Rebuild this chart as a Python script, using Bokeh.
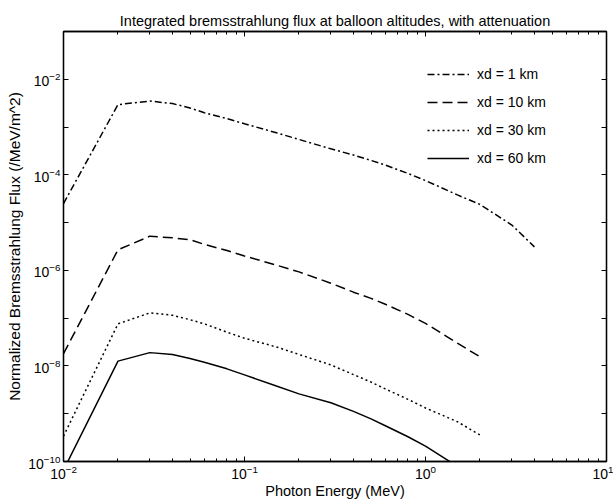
from bokeh.plotting import figure
from bokeh.models import (Legend, LegendItem, FixedTicker, LogAxis, Range1d, CustomJSTickFormatter)
from bokeh.embed import file_html
from bokeh.resources import INLINE

# ---- data ----
energy_1km = [0.01, 0.02, 0.03, 0.04, 0.05, 0.06, 0.08, 0.1, 0.15, 0.2, 0.3, 0.4, 0.5, 0.6, 0.8, 1.0, 1.5, 2.0, 3.0, 4.0]
flux_1km = [2.5e-5, 2.95e-3, 3.5e-3, 3.1e-3, 2.5e-3, 2.0e-3, 1.5e-3, 1.17e-3, 7.6e-4, 5.5e-4, 3.5e-4, 2.6e-4,
            2.0e-4, 1.6e-4, 1.07e-4, 7.6e-5, 3.8e-5, 2.4e-5, 8.9e-6, 3.1e-6]

energy_10km = [0.01, 0.02, 0.03, 0.04, 0.05, 0.06, 0.08, 0.1, 0.15, 0.2, 0.3, 0.4, 0.5, 0.6, 0.8, 1.0, 1.5, 2.0]
flux_10km = [1.8e-8, 2.7e-6, 5.2e-6, 4.8e-6, 4.4e-6, 3.5e-6, 2.6e-6, 2.0e-6, 1.29e-6, 9.3e-7, 5.4e-7, 3.5e-7,
             2.6e-7, 1.95e-7, 1.2e-7, 7.8e-8, 3.0e-8, 1.55e-8]

energy_30km = [0.01, 0.02, 0.03, 0.04, 0.05, 0.06, 0.08, 0.1, 0.15, 0.2, 0.3, 0.4, 0.5, 0.6, 0.8, 1.0, 1.5, 2.0]
flux_30km = [3.4e-10, 7.6e-8, 1.29e-7, 1.15e-7, 9.3e-8, 7.6e-8, 5.1e-8, 3.8e-8, 2.5e-8, 1.74e-8, 1.05e-8, 6.6e-9,
             4.6e-9, 3.3e-9, 2.0e-9, 1.32e-9, 6.8e-10, 3.6e-10]

energy_60km = [0.01, 0.02, 0.03, 0.04, 0.05, 0.06, 0.08, 0.1, 0.15, 0.2, 0.3, 0.4, 0.5, 0.6, 0.8, 1.0, 1.5]
flux_60km = [6.6e-11, 1.26e-8, 1.9e-8, 1.74e-8, 1.43e-8, 1.2e-8, 8.7e-9, 6.5e-9, 3.8e-9, 2.6e-9, 1.7e-9, 1.12e-9,
             7.8e-10, 5.6e-10, 3.3e-10, 2.1e-10, 7.9e-11]

series_labels = ["xd = 1 km", "xd = 10 km", "xd = 30 km", "xd = 60 km"]

x_major = [1e-2, 1e-1, 1e0, 1e1]
y_major = [1e-10, 1e-8, 1e-6, 1e-4, 1e-2]
y_minor = [1e-9, 1e-7, 1e-5, 1e-3, 1e-1]

FONT = "Liberation Sans"

p = figure(width=613, height=504, x_axis_type="log", y_axis_type="log",
           x_range=Range1d(1e-2, 1e1), y_range=Range1d(1e-10, 1e-1),
           output_backend="svg", toolbar_location=None,
           min_border_left=63, min_border_right=7, min_border_top=31, min_border_bottom=43,
           title="Integrated bremsstrahlung flux at balloon altitudes, with attenuation")

p.title.align = "center"
p.title.text_font = FONT
p.title.text_font_size = "14.5px"
p.title.text_font_style = "normal"
p.title.text_color = "black"
p.title.offset = 0
p.title.standoff = 5

p.xgrid.visible = False
p.ygrid.visible = False
p.outline_line_color = "black"
p.outline_line_width = 1.3
p.background_fill_color = "white"
p.border_fill_color = "white"

x_minor = []
for d in [1e-2, 1e-1, 1e0]:
    for m in range(2, 10):
        x_minor.append(m * d)

def style_axis(ax):
    ax.major_tick_in = 5
    ax.major_tick_out = 0
    ax.minor_tick_in = 3
    ax.minor_tick_out = 0
    ax.axis_line_color = "black"
    ax.axis_line_width = 1.3
    ax.major_tick_line_color = "black"
    ax.minor_tick_line_color = "black"
    ax.major_label_text_font = FONT
    ax.major_label_text_font_size = "14px"
    ax.major_label_text_color = "black"
    ax.axis_label_text_font = FONT
    ax.axis_label_text_font_size = "14.5px"
    ax.axis_label_text_font_style = "normal"
    ax.axis_label_text_color = "black"

p.xaxis.ticker = FixedTicker(ticks=x_major, minor_ticks=x_minor)
p.yaxis.ticker = FixedTicker(ticks=y_major, minor_ticks=y_minor)
style_axis(p.xaxis[0])
style_axis(p.yaxis[0])
p.yaxis[0].minor_tick_in = 5
p.yaxis[0].axis_label_text_font_size = "15.5px"
p.xaxis.axis_label = "Photon Energy (MeV)"
p.yaxis.axis_label = "Normalized Bremsstrahlung Flux (/MeV/m^2)"
p.xaxis.axis_label_standoff = 1
p.yaxis.axis_label_standoff = 2
p.xaxis.major_label_standoff = 3
p.yaxis.major_label_standoff = 3

top_ax = LogAxis(ticker=FixedTicker(ticks=x_major, minor_ticks=x_minor),
                 formatter=CustomJSTickFormatter(code="return ''"))
style_axis(top_ax)
top_ax.major_label_standoff = 0
p.add_layout(top_ax, "above")
right_ax = LogAxis(ticker=FixedTicker(ticks=y_major, minor_ticks=y_minor),
                   formatter=CustomJSTickFormatter(code="return ''"))
style_axis(right_ax)
right_ax.minor_tick_in = 5
right_ax.major_label_standoff = 0
p.add_layout(right_ax, "right")

lw = 1.5
r1 = p.line(energy_1km, flux_1km, line_color="black", line_width=lw, line_dash="7 3 2 3")
r2 = p.line(energy_10km, flux_10km, line_color="black", line_width=lw, line_dash="10 5")
r3 = p.line(energy_30km, flux_30km, line_color="black", line_width=lw, line_dash="2 3")
r4 = p.line(energy_60km, flux_60km, line_color="black", line_width=lw)

legend = Legend(items=[LegendItem(label=series_labels[0], renderers=[r1]),
                       LegendItem(label=series_labels[1], renderers=[r2]),
                       LegendItem(label=series_labels[2], renderers=[r3]),
                       LegendItem(label=series_labels[3], renderers=[r4])],
                location=(359, 288))
legend.border_line_alpha = 0
legend.background_fill_alpha = 0
legend.padding = 5
legend.spacing = 8
legend.glyph_width = 42
legend.glyph_height = 20
legend.label_height = 20
legend.label_standoff = 8
legend.label_text_font = FONT
legend.label_text_font_size = "14px"
legend.label_text_color = "black"
legend.margin = 0
p.add_layout(legend, "center")

open("out.html", "w").write(file_html(p, INLINE))
